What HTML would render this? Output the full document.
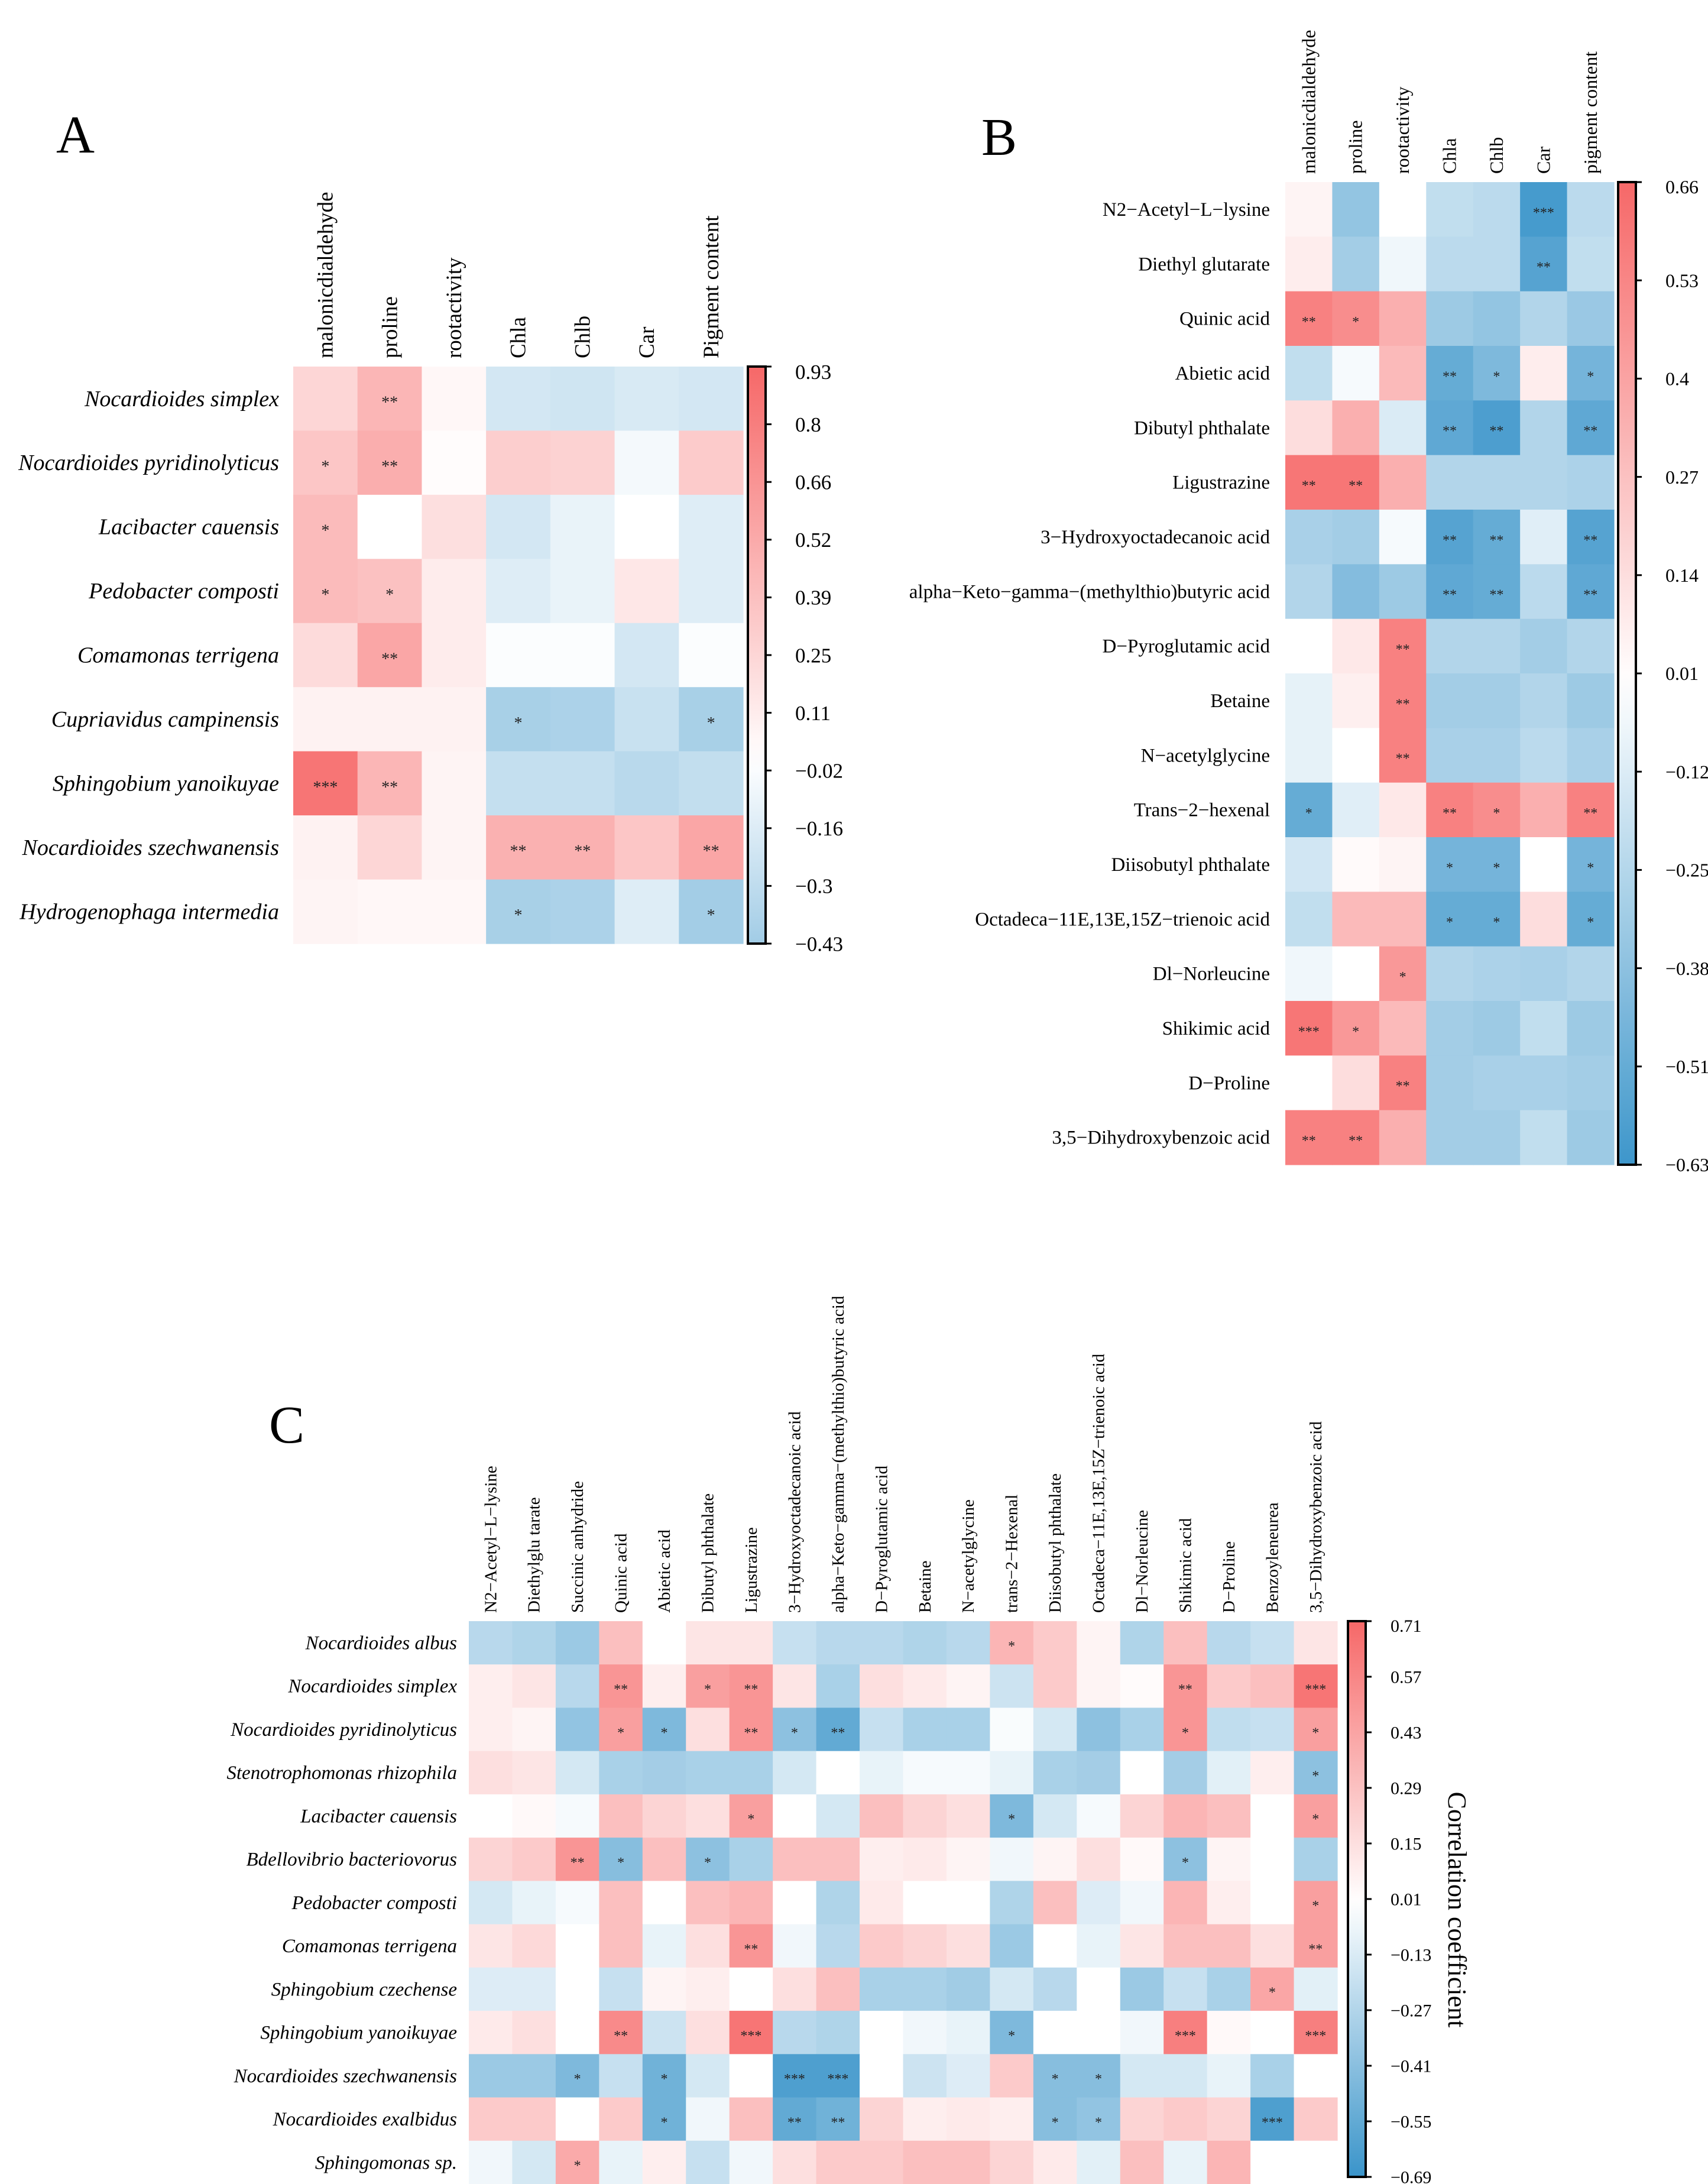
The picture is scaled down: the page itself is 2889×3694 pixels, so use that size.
<!DOCTYPE html>
<html><head><meta charset="utf-8">
<style>
html,body{margin:0;padding:0;background:#fff;}
svg{display:block;font-family:"Liberation Serif",serif;}
</style></head>
<body>
<svg id="fig" width="2889" height="3694" viewBox="0 0 2889 3694" xmlns="http://www.w3.org/2000/svg"></svg>
<script>
// ===== Panel A data =====
const aRows = ["Nocardioides simplex","Nocardioides pyridinolyticus","Lacibacter cauensis","Pedobacter composti","Comamonas terrigena","Cupriavidus campinensis","Sphingobium yanoikuyae","Nocardioides szechwanensis","Hydrogenophaga intermedia"];
const aCols = ["malonicdialdehyde","proline","rootactivity","Chla","Chlb","Car","Pigment content"];
const aValues = [
 [0.25,0.45,0.05,-0.20,-0.22,-0.18,-0.20],
 [0.35,0.50,0.02,0.30,0.28,-0.05,0.32],
 [0.42,0.00,0.20,-0.20,-0.10,0.00,-0.15],
 [0.42,0.38,0.12,-0.15,-0.10,0.15,-0.15],
 [0.22,0.55,0.12,-0.02,-0.02,-0.20,-0.02],
 [0.08,0.08,0.08,-0.40,-0.38,-0.25,-0.40],
 [0.85,0.45,0.07,-0.27,-0.27,-0.32,-0.28],
 [0.08,0.25,0.07,0.48,0.48,0.35,0.55],
 [0.07,0.05,0.05,-0.40,-0.38,-0.15,-0.42]];
const aStars = [
 ["","**","","","","",""],
 ["*","**","","","","",""],
 ["*","","","","","",""],
 ["*","*","","","","",""],
 ["","**","","","","",""],
 ["","","","*","","","*"],
 ["***","**","","","","",""],
 ["","","","**","**","","**"],
 ["","","","*","","","*"]];
const aTicks = ["0.93","0.8","0.66","0.52","0.39","0.25","0.11","\u22120.02","\u22120.16","\u22120.3","\u22120.43"];
const aMaxAbs = 0.93;

// ===== Panel B data =====
const bRows = ["N2\u2212Acetyl\u2212L\u2212lysine","Diethyl glutarate","Quinic acid","Abietic acid","Dibutyl phthalate","Ligustrazine","3\u2212Hydroxyoctadecanoic acid","alpha\u2212Keto\u2212gamma\u2212(methylthio)butyric acid","D\u2212Pyroglutamic acid","Betaine","N\u2212acetylglycine","Trans\u22122\u2212hexenal","Diisobutyl phthalate","Octadeca\u221211E,13E,15Z\u2212trienoic acid","Dl\u2212Norleucine","Shikimic acid","D\u2212Proline","3,5\u2212Dihydroxybenzoic acid"];
const bCols = ["malonicdialdehyde","proline","rootactivity","Chla","Chlb","Car","pigment content"];
const bValues = [
 [0.05,-0.35,0.00,-0.20,-0.22,-0.60,-0.22],
 [0.08,-0.30,-0.05,-0.22,-0.22,-0.55,-0.20],
 [0.55,0.50,0.35,-0.32,-0.35,-0.25,-0.33],
 [-0.20,-0.03,0.30,-0.50,-0.42,0.08,-0.45],
 [0.15,0.35,-0.12,-0.52,-0.58,-0.25,-0.52],
 [0.60,0.60,0.35,-0.25,-0.25,-0.25,-0.27],
 [-0.28,-0.30,-0.03,-0.55,-0.50,-0.10,-0.55],
 [-0.25,-0.40,-0.32,-0.52,-0.50,-0.22,-0.52],
 [0.00,0.10,0.55,-0.25,-0.25,-0.30,-0.25],
 [-0.08,0.07,0.55,-0.30,-0.30,-0.25,-0.32],
 [-0.08,0.00,0.55,-0.28,-0.28,-0.22,-0.28],
 [-0.50,-0.10,0.10,0.55,0.50,0.35,0.55],
 [-0.15,0.02,0.05,-0.45,-0.45,0.00,-0.45],
 [-0.20,0.30,0.30,-0.50,-0.50,0.15,-0.50],
 [-0.05,0.00,0.45,-0.25,-0.27,-0.28,-0.25],
 [0.60,0.45,0.30,-0.30,-0.32,-0.20,-0.32],
 [0.00,0.15,0.55,-0.30,-0.28,-0.28,-0.30],
 [0.55,0.55,0.35,-0.30,-0.30,-0.20,-0.32]];
const bStars = [
 ["","","","","","***",""],
 ["","","","","","**",""],
 ["**","*","","","","",""],
 ["","","","**","*","","*"],
 ["","","","**","**","","**"],
 ["**","**","","","","",""],
 ["","","","**","**","","**"],
 ["","","","**","**","","**"],
 ["","","**","","","",""],
 ["","","**","","","",""],
 ["","","**","","","",""],
 ["*","","","**","*","","**"],
 ["","","","*","*","","*"],
 ["","","","*","*","","*"],
 ["","","*","","","",""],
 ["***","*","","","","",""],
 ["","","**","","","",""],
 ["**","**","","","","",""]];
const bTicks = ["0.66","0.53","0.4","0.27","0.14","0.01","\u22120.12","\u22120.25","\u22120.38","\u22120.51","\u22120.63"];
const bMaxAbs = 0.66;

// ===== Panel C data =====
const cRows = ["Nocardioides albus","Nocardioides simplex","Nocardioides pyridinolyticus","Stenotrophomonas rhizophila","Lacibacter cauensis","Bdellovibrio bacteriovorus","Pedobacter composti","Comamonas terrigena","Sphingobium czechense","Sphingobium yanoikuyae","Nocardioides szechwanensis","Nocardioides exalbidus","Sphingomonas sp."];
const cCols = ["N2\u2212Acetyl\u2212L\u2212lysine","Diethylglu tarate","Succinic anhydride","Quinic acid","Abietic acid","Dibutyl phthalate","Ligustrazine","3\u2212Hydroxyoctadecanoic acid","alpha\u2212Keto\u2212gamma\u2212(methylthio)butyric acid","D\u2212Pyroglutamic acid","Betaine","N\u2212acetylglycine","trans\u22122\u2212Hexenal","Diisobutyl phthalate","Octadeca\u221211E,13E,15Z\u2212trienoic acid","Dl\u2212Norleucine","Shikimic acid","D\u2212Proline","Benzoyleneurea","3,5\u2212Dihydroxybenzoic acid"];
const cValues = [
 [-0.25,-0.28,-0.35,0.30,0.00,0.12,0.12,-0.20,-0.25,-0.25,-0.28,-0.25,0.35,0.25,0.05,-0.28,0.30,-0.25,-0.20,0.12],
 [0.08,0.12,-0.25,0.50,0.08,0.45,0.50,0.12,-0.30,0.15,0.10,0.05,-0.18,0.25,0.05,0.02,0.50,0.25,0.30,0.65],
 [0.08,0.05,-0.38,0.45,-0.45,0.15,0.50,-0.40,-0.55,-0.20,-0.30,-0.30,-0.02,-0.15,-0.40,-0.30,0.50,-0.22,-0.20,0.45],
 [0.15,0.12,-0.15,-0.30,-0.32,-0.30,-0.30,-0.15,0.00,-0.08,-0.03,-0.03,-0.08,-0.30,-0.32,0.00,-0.32,-0.10,0.08,-0.40],
 [0.00,0.03,-0.03,0.30,0.20,0.15,0.45,0.00,-0.15,0.30,0.20,0.15,-0.45,-0.15,-0.03,0.20,0.35,0.30,0.00,0.45],
 [0.20,0.25,0.50,-0.42,0.30,-0.40,-0.30,0.30,0.30,0.08,0.10,0.05,-0.05,0.05,0.15,0.03,-0.40,0.05,0.00,-0.30],
 [-0.15,-0.08,-0.03,0.30,0.00,0.30,0.35,0.00,-0.28,0.10,0.00,0.00,-0.28,0.30,-0.12,-0.05,0.35,0.08,0.00,0.45],
 [0.12,0.18,0.00,0.30,-0.08,0.15,0.50,-0.05,-0.25,0.25,0.20,0.15,-0.35,0.00,-0.08,0.12,0.30,0.30,0.15,0.45],
 [-0.12,-0.12,0.00,-0.20,0.05,0.08,0.00,0.15,0.30,-0.30,-0.30,-0.33,-0.15,-0.25,0.00,-0.35,-0.20,-0.30,0.42,-0.10],
 [0.10,0.15,0.00,0.55,-0.18,0.15,0.65,-0.25,-0.28,0.00,-0.05,-0.08,-0.45,0.00,0.00,-0.05,0.60,0.03,0.00,0.60],
 [-0.35,-0.35,-0.45,-0.20,-0.50,-0.15,0.00,-0.62,-0.62,0.00,-0.18,-0.12,0.25,-0.42,-0.42,-0.15,-0.15,-0.08,-0.30,0.00],
 [0.25,0.25,0.00,0.25,-0.50,-0.05,0.30,-0.55,-0.50,0.20,0.08,0.10,0.08,-0.42,-0.38,0.20,0.25,0.20,-0.62,0.25],
 [-0.05,-0.15,0.40,-0.08,0.08,-0.20,-0.05,0.15,0.25,0.25,0.30,0.30,0.20,0.10,-0.10,0.30,-0.08,0.35,0.00,0.00]];
const cStars = [
 ["","","","","","","","","","","","","*","","","","","","",""],
 ["","","","**","","*","**","","","","","","","","","","**","","","***"],
 ["","","","*","*","","**","*","**","","","","","","","","*","","","*"],
 ["","","","","","","","","","","","","","","","","","","","*"],
 ["","","","","","","*","","","","","","*","","","","","","","*"],
 ["","","**","*","","*","","","","","","","","","","","*","","",""],
 ["","","","","","","","","","","","","","","","","","","","*"],
 ["","","","","","","**","","","","","","","","","","","","","**"],
 ["","","","","","","","","","","","","","","","","","","*",""],
 ["","","","**","","","***","","","","","","*","","","","***","","","***"],
 ["","","*","","*","","","***","***","","","","","*","*","","","","",""],
 ["","","","","*","","","**","**","","","","","*","*","","","","***",""],
 ["","","*","","","","","","","","","","","","","","","","",""]];
const cTicks = ["0.71","0.57","0.43","0.29","0.15","0.01","\u22120.13","\u22120.27","\u22120.41","\u22120.55","\u22120.69"];
const cMaxAbs = 0.71;

const NS = "http://www.w3.org/2000/svg";
const svg = document.getElementById("fig");
function mk(tag, attrs, parent){
  const e = document.createElementNS(NS, tag);
  for (const k in attrs) e.setAttribute(k, attrs[k]);
  (parent||svg).appendChild(e);
  return e;
}
const RED=[246,104,104], BLUE=[52,145,200];
function colorOf(v, maxAbs){
  let t = Math.max(-1, Math.min(1, v / maxAbs));
  const c = t >= 0 ? RED : BLUE;
  const a = Math.abs(t);
  const r = Math.round(255 + (c[0]-255)*a), g = Math.round(255 + (c[1]-255)*a), b = Math.round(255 + (c[2]-255)*a);
  return `rgb(${r},${g},${b})`;
}

function panel(cfg){
  const g = mk("g", {});
  
  
  const nR = cfg.rows.length, nC = cfg.cols.length;
  const cw = (cfg.x1 - cfg.x0) / nC, rh = (cfg.y1 - cfg.y0) / nR;
  const xPos = j => cfg.x0 + j*cw;
  const yPos = i => cfg.y0 + i*rh;
  for (let i=0;i<nR;i++){
    for (let j=0;j<nC;j++){
      const r = mk("rect", {x:xPos(j), y:yPos(i), width:cw+0.6, height:rh+0.6, fill:colorOf(cfg.values[i][j], cfg.maxAbs)}, g);
      
      
      const s = cfg.stars[i][j];
      if (s){
        const t = mk("text", {x:xPos(j)+cw/2, y:yPos(i)+rh/2+cfg.starSize*0.55, "text-anchor":"middle", "font-size":cfg.starSize, fill:"#222"}, g);
        t.textContent = s;
        
        
      }
    }
  }
  for (let i=0;i<nR;i++){
    const t = mk("text", {x:cfg.x0 - cfg.rowGap, y:yPos(i)+rh/2+cfg.rowFont*0.33, "text-anchor":"end", "font-size":cfg.rowFont, "font-style":cfg.italic?"italic":"normal", fill:"#000"}, g);
    t.textContent = cfg.rows[i];
    
    
  }
  for (let j=0;j<nC;j++){
    const cx = xPos(j)+cw/2 + cfg.colFont*0.33, cy = cfg.y0 - cfg.colGap;
    const t = mk("text", {x:cx, y:cy, transform:`rotate(-90 ${cx} ${cy})`, "font-size":cfg.colFont, fill:"#000"}, g);
    t.textContent = cfg.cols[j];
    
    
  }
  const defs = mk("defs", {}, g);
  const grad = mk("linearGradient", {id:cfg.id+"grad", x1:0, y1:0, x2:0, y2:1}, defs);
  const top = parseFloat(cfg.ticks[0].replace("\u2212","-"));
  const bot = parseFloat(cfg.ticks[cfg.ticks.length-1].replace("\u2212","-"));
  for (let k=0;k<=20;k++){
    const v = top + (bot-top)*k/20;
    mk("stop", {offset:(k/20), "stop-color":colorOf(v, cfg.maxAbs)}, grad);
  }
  const cbH = cfg.cbh||(cfg.y1-cfg.y0);
  const cb = mk("rect", {x:cfg.cbx, y:cfg.y0, width:cfg.cbw, height:cbH, fill:`url(#${cfg.id}grad)`, stroke:"#000", "stroke-width":4}, g);
  
  
  const nT = cfg.ticks.length;
  for (let k=0;k<nT;k++){
    const ty = cfg.y0 + cbH*k/(nT-1);
    mk("line", {x1:cfg.cbx+cfg.cbw, x2:cfg.cbx+cfg.cbw+10, y1:ty, y2:ty, stroke:"#000", "stroke-width":3}, g);
    let ly = ty + cfg.tickFont*0.35;
    if (k===0) ly = Math.max(ly, cfg.y0 + cfg.tickFont*0.6);
    const t = mk("text", {x:cfg.cbx+cfg.cbw+cfg.tickGap, y:ly, "font-size":cfg.tickFont, fill:"#000"}, g);
    t.textContent = cfg.ticks[k];
    
    
  }
  const L = mk("text", {x:cfg.lx, y:cfg.ly, "font-size":90, fill:"#000"}, g);
  L.textContent = cfg.letter;
  
  
}

panel({name:"panel-a-heatmap", id:"a", rows:aRows, cols:aCols, values:aValues, stars:aStars, ticks:aTicks, maxAbs:aMaxAbs,
  x0:496, x1:1257, y0:620, y1:1596, rowGap:24, rowFont:38, italic:true, colGap:14, colFont:37, starSize:28,
  cbx:1265, cbw:30, tickFont:35, tickGap:50, letter:"A", lx:95, ly:258});
panel({name:"panel-b-heatmap", id:"b", rows:bRows, cols:bCols, values:bValues, stars:bStars, ticks:bTicks, maxAbs:bMaxAbs,
  x0:2174, x1:2730, y0:308, y1:1970, rowGap:26, rowFont:33, italic:false, colGap:14, colFont:32, starSize:24,
  cbx:2737, cbw:30, tickFont:32, tickGap:50, letter:"B", lx:1660, ly:262});
panel({name:"panel-c-heatmap", id:"c", rows:cRows, cols:cCols, values:cValues, stars:cStars, ticks:cTicks, maxAbs:cMaxAbs,
  x0:793, x1:2262, y0:2742, y1:3694, rowGap:20, rowFont:33, italic:true, colGap:14, colFont:29, starSize:24,
  cbx:2280, cbw:30, cbh:940, tickFont:30, tickGap:42, letter:"C", lx:455, ly:2440});

const cc = mk("text", {x:2450, y:3230, transform:"rotate(90 2450 3230)", "text-anchor":"middle", "font-size":44, fill:"#000"});
cc.textContent = "Correlation coefficient";


</script>
</body></html>
